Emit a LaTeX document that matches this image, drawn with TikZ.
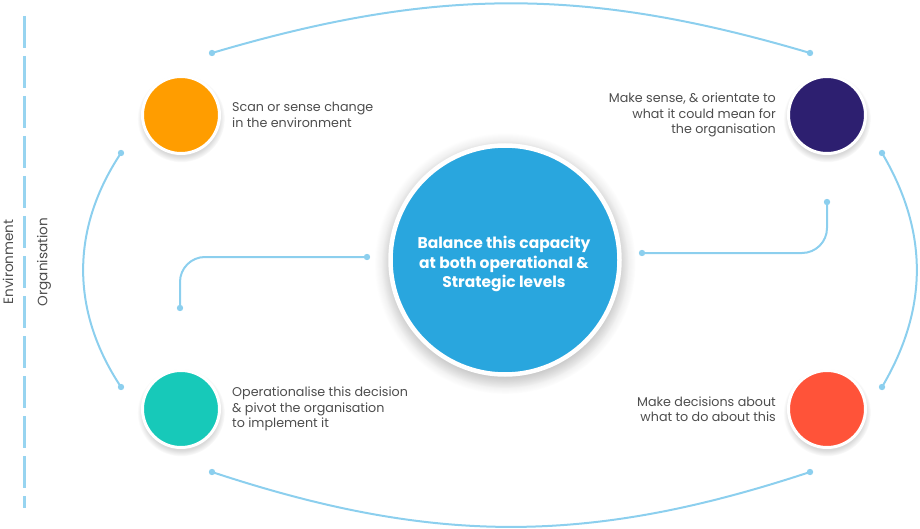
\documentclass[tikz,border=0pt]{standalone}
\usepackage{fontspec}
\setmainfont{Poppins}
\usepackage{xcolor}
\usetikzlibrary{positioning,shadows,arrows.meta}

\definecolor{linkblue}{HTML}{8CCFEE}
\definecolor{scanorange}{HTML}{FF9D00}
\definecolor{sensepurple}{HTML}{2D1F70}
\definecolor{decidered}{HTML}{FF5339}
\definecolor{actteal}{HTML}{17C9B9}
\definecolor{balanceblue}{HTML}{29A6DE}
\definecolor{notegray}{HTML}{4D4D4D}

\begin{document}
\begin{tikzpicture}[
			x=1pt, y=-1pt,
			node distance=11pt,
			stage/.style={circle, draw=white, line width=3pt, inner sep=0pt, minimum size=77pt,
				circular drop shadow={shadow xshift=0pt, shadow yshift=-3pt, shadow scale=1.14, opacity=.3}},
			hub/.style={stage, line width=4.5pt, minimum size=229pt,
				circular drop shadow={shadow xshift=0pt, shadow yshift=-4pt, shadow scale=1.08, opacity=.3}},
			hubtext/.style={inner sep=0pt, align=center, text=white, font=\fontsize{15.5}{19.5}\selectfont\bfseries},
			note/.style={inner sep=0pt, text=notegray, font=\fontsize{12.7}{15.5}\selectfont},
			side/.style={inner sep=0pt, rotate=90, text=notegray, font=\fontsize{13.6}{15}\selectfont},
			link/.style={draw=linkblue, line width=2pt},
			divider/.style={draw=linkblue!90, line width=3pt, dash pattern=on 32pt off 8pt}
			]
			\useasboundingbox (0,0) rectangle (920,529);

			% Nodos
			\node [stage, fill=scanorange] (scan) at (181,115) {};
			\node [stage, fill=sensepurple] (sense) at (827,115) {};
			\node [stage, fill=decidered] (decide) at (827,409) {};
			\node [stage, fill=actteal] (act) at (181,409) {};
			\node [hub, fill=balanceblue] (balance) at (505,260) {};
			\node [hubtext] (balancetxt) at ([xshift=-1pt, yshift=-4pt]balance.center) {Balance this capacity\\at both operational \&\\Strategic levels};

			\node [note, align=left, right=of scan] (scantxt) {Scan or sense change\\in the environment};
			\node [note, align=right, left=of sense] (sensetxt) {Make sense, \& orientate to\\what it could mean for\\the organisation};
			\node [note, align=right, left=of decide] (decidetxt) {Make decisions about\\what to do about this};
			\node [note, align=left, right=of act] (acttxt) {Operationalise this decision\\\& pivot the organisation\\to implement it};

			\node [side] (env) at (8,262) {Environment};
			\node [side] (org) at (44,262) {Organisation};

			% Puntos
			\coordinate (topl) at (212,53);
			\coordinate (topr) at (810,53);
			\coordinate (botl) at (212,472);
			\coordinate (botr) at (810,472);
			\coordinate (leftt) at (121,153);
			\coordinate (leftb) at (121,387);
			\coordinate (rightt) at (882,153);
			\coordinate (rightb) at (882,387);
			\coordinate (innl) at (367,257);
			\coordinate (innlend) at (180,308);
			\coordinate (innr) at (642,253);
			\coordinate (innrend) at (827,202);
			\coordinate (divtop) at (24,16);
			\coordinate (divbot) at (24,508);

			% Conexiones
			\path [divider] (divtop) -- (divbot);
			\path [link] (topl) to[bend left=16.5] (topr);
			\path [link] (botl) to[bend right=18.3] (botr);
			\path [link] (leftt) to[bend right=33.6] (leftb);
			\path [link] (rightt) to[bend left=30.6] (rightb);
			\path [link, rounded corners=25pt] (innl) -| (innlend);
			\path [link, rounded corners=25pt] (innr) -| (innrend);
			\foreach \p in {topl,topr,botl,botr,leftt,leftb,rightt,rightb,innl,innlend,innr,innrend}
				\fill [linkblue] (\p) circle (3.2pt);
		\end{tikzpicture}
\end{document}
